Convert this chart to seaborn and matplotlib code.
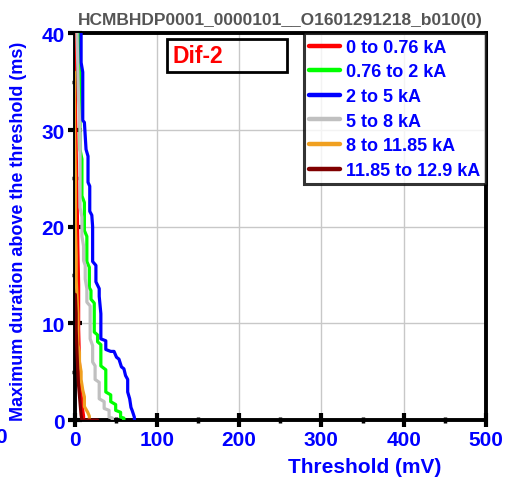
import matplotlib
matplotlib.use("Agg")
import matplotlib.pyplot as plt
import seaborn as sns
import pandas as pd
from matplotlib.patches import Rectangle
from matplotlib.ticker import MultipleLocator

sns.set_theme(style="white")
plt.rcParams['font.family'] = ['Liberation Sans', 'DejaVu Sans']

title = "HCMBHDP0001_0000101__O1601291218_b010(0)"
labels = ["0 to 0.76 kA", "0.76 to 2 kA", "2 to 5 kA", "5 to 8 kA", "8 to 11.85 kA", "11.85 to 12.9 kA"]
colors = ["#ff0000", "#00ff00", "#0000ff", "#c0c0c0", "#f0a020", "#800000"]

red_x = [0, 0, 1, 2, 3.5, 4, 5, 5, 6, 7, 8, 10, 11, 11]
red_y = [48, 38, 33, 28, 21, 18, 14, 9.4, 6, 4, 2.5, 1, 0.4, 0]
green_x = [5, 5, 6.7, 6.7, 9, 9, 12, 12, 15, 15, 18, 18, 20, 20, 24, 24, 28, 28, 32, 32,
           38, 38, 44, 44, 50, 50, 56, 56, 60, 60]
green_y = [45, 40, 38, 28, 27, 23.2, 22.5, 19.6, 19, 16.4, 15.8, 13.7, 13.4, 12.5, 12.1, 9.1,
           8.8, 8.1, 7.8, 5.6, 5.2, 2.9, 2.6, 1.9, 1.6, 1.0, 0.8, 0.3, 0.2, 0]
blue_x = [8, 8, 10, 10, 12, 14, 16.4, 16.4, 18.5, 18.5, 21, 22, 22, 26, 26, 30, 30, 32, 32,
          38, 38, 44, 48, 51, 54, 57, 60, 62, 64.6, 64.6, 67, 68.6, 70, 72.7, 72.7]
blue_y = [45, 37, 36, 31, 30.8, 28, 27.3, 24.6, 24.2, 21.6, 21.2, 20, 16.4, 16, 14.3, 13.6,
          12.8, 11, 8.4, 8.2, 7.3, 7.1, 7.1, 6.5, 6.3, 5.5, 5.3, 4.6, 4.2, 2.9, 2.2, 1.3, 1.0, 0.3, 0]
gray_x = [3, 3, 5, 6.7, 6.7, 9, 9, 11, 11, 13, 13, 15, 15, 19, 19, 22, 22, 25, 25, 30, 30,
          36, 36, 42, 42, 46, 46]
gray_y = [45, 40, 33, 30, 22, 21, 19, 18, 16.5, 16, 14.6, 13.6, 12.2, 11.8, 8.4, 7.7, 6, 5.6,
          4.2, 3.9, 2.2, 1.9, 1.2, 1.0, 0.3, 0.2, 0]
orange_x = [0, 0, 1, 1, 2, 2, 4, 4, 6, 6, 8, 8, 10, 12, 12, 16, 18, 18]
orange_y = [36, 30, 25, 20, 17, 14.6, 11, 7.8, 7, 6, 5, 4.2, 3.1, 2.4, 1.4, 0.8, 0.4, 0]
maroon_x = [0, 1, 2, 2, 3, 4, 5, 6, 7, 8, 9, 28]
maroon_y = [13, 13, 11, 9.4, 7, 5, 3.5, 2.5, 1.5, 0.5, 0, 0]

series = [(red_x, red_y), (green_x, green_y), (blue_x, blue_y),
          (gray_x, gray_y), (orange_x, orange_y), (maroon_x, maroon_y)]

fig = plt.figure(figsize=(5.08, 4.81), dpi=100)
ax = fig.add_axes([0.1467, 0.1247, 0.81, 0.8036])

for (xs, ys), lab, col in zip(series, labels, colors):
    df = pd.DataFrame({"x": xs, "y": ys})
    sns.lineplot(data=df, x="x", y="y", sort=False, estimator=None, ax=ax,
                 color=col, linewidth=2.3, label=lab, zorder=3)

ax.set_xlim(0, 500)
ax.set_ylim(0, 40)
ax.xaxis.set_major_locator(MultipleLocator(100))
ax.xaxis.set_minor_locator(MultipleLocator(50))
ax.yaxis.set_major_locator(MultipleLocator(10))
ax.yaxis.set_minor_locator(MultipleLocator(5))
ax.grid(True, which='major', color='#c8c8c8', linewidth=1.0)
ax.set_axisbelow(True)
for s in ax.spines.values():
    s.set_color('black')
    s.set_linewidth(2.8)
ax.tick_params(which='major', direction='inout', length=10, width=3, color='black',
               labelcolor='#0000ff', labelsize=15, pad=2)
ax.tick_params(which='minor', direction='inout', length=5, width=2.5, color='black')
ax.tick_params(axis='both', which='both', bottom=True, left=True, top=False, right=False)
for lbl in ax.get_xticklabels() + ax.get_yticklabels():
    lbl.set_fontweight('bold')

ax.set_xlabel("Threshold (mV)", color='#0000ff', fontsize=15, fontweight='bold')
ax.xaxis.set_label_coords(0.706, -0.095)
ax.set_ylabel("Maximum duration above the threshold (ms)", color='#0000ff', fontsize=13,
              fontweight='bold')
ax.yaxis.set_label_coords(-0.115, 0.49)
ax.set_title(title, color='#555555', fontsize=12.5, fontweight='bold', pad=7)

leg = ax.legend(loc='upper right', borderaxespad=0, frameon=True, fancybox=False,
                handlelength=1.7, handletextpad=0.35, labelspacing=0.42, borderpad=0.3,
                prop={'weight': 'bold', 'size': 13})
leg.get_frame().set_edgecolor('black')
leg.get_frame().set_linewidth(2.2)
for t in leg.get_texts():
    t.set_color('#0000ff')
for h in leg.get_lines():
    h.set_linewidth(3.2)

ax.add_patch(Rectangle((0.224, 0.901), 0.2916, 0.085, transform=ax.transAxes,
                       fill=False, edgecolor='black', linewidth=2.0, zorder=5))
ax.text(0.2386, 0.944, "Dif-2", transform=ax.transAxes, color='#ff0000', fontsize=16.5,
        fontweight='bold', va='center', ha='left', zorder=6)

fig.text(-0.01, 0.09, "0", color='#0000ff', fontsize=15, fontweight='bold', va='center')

fig.savefig("out.png", dpi=100)
